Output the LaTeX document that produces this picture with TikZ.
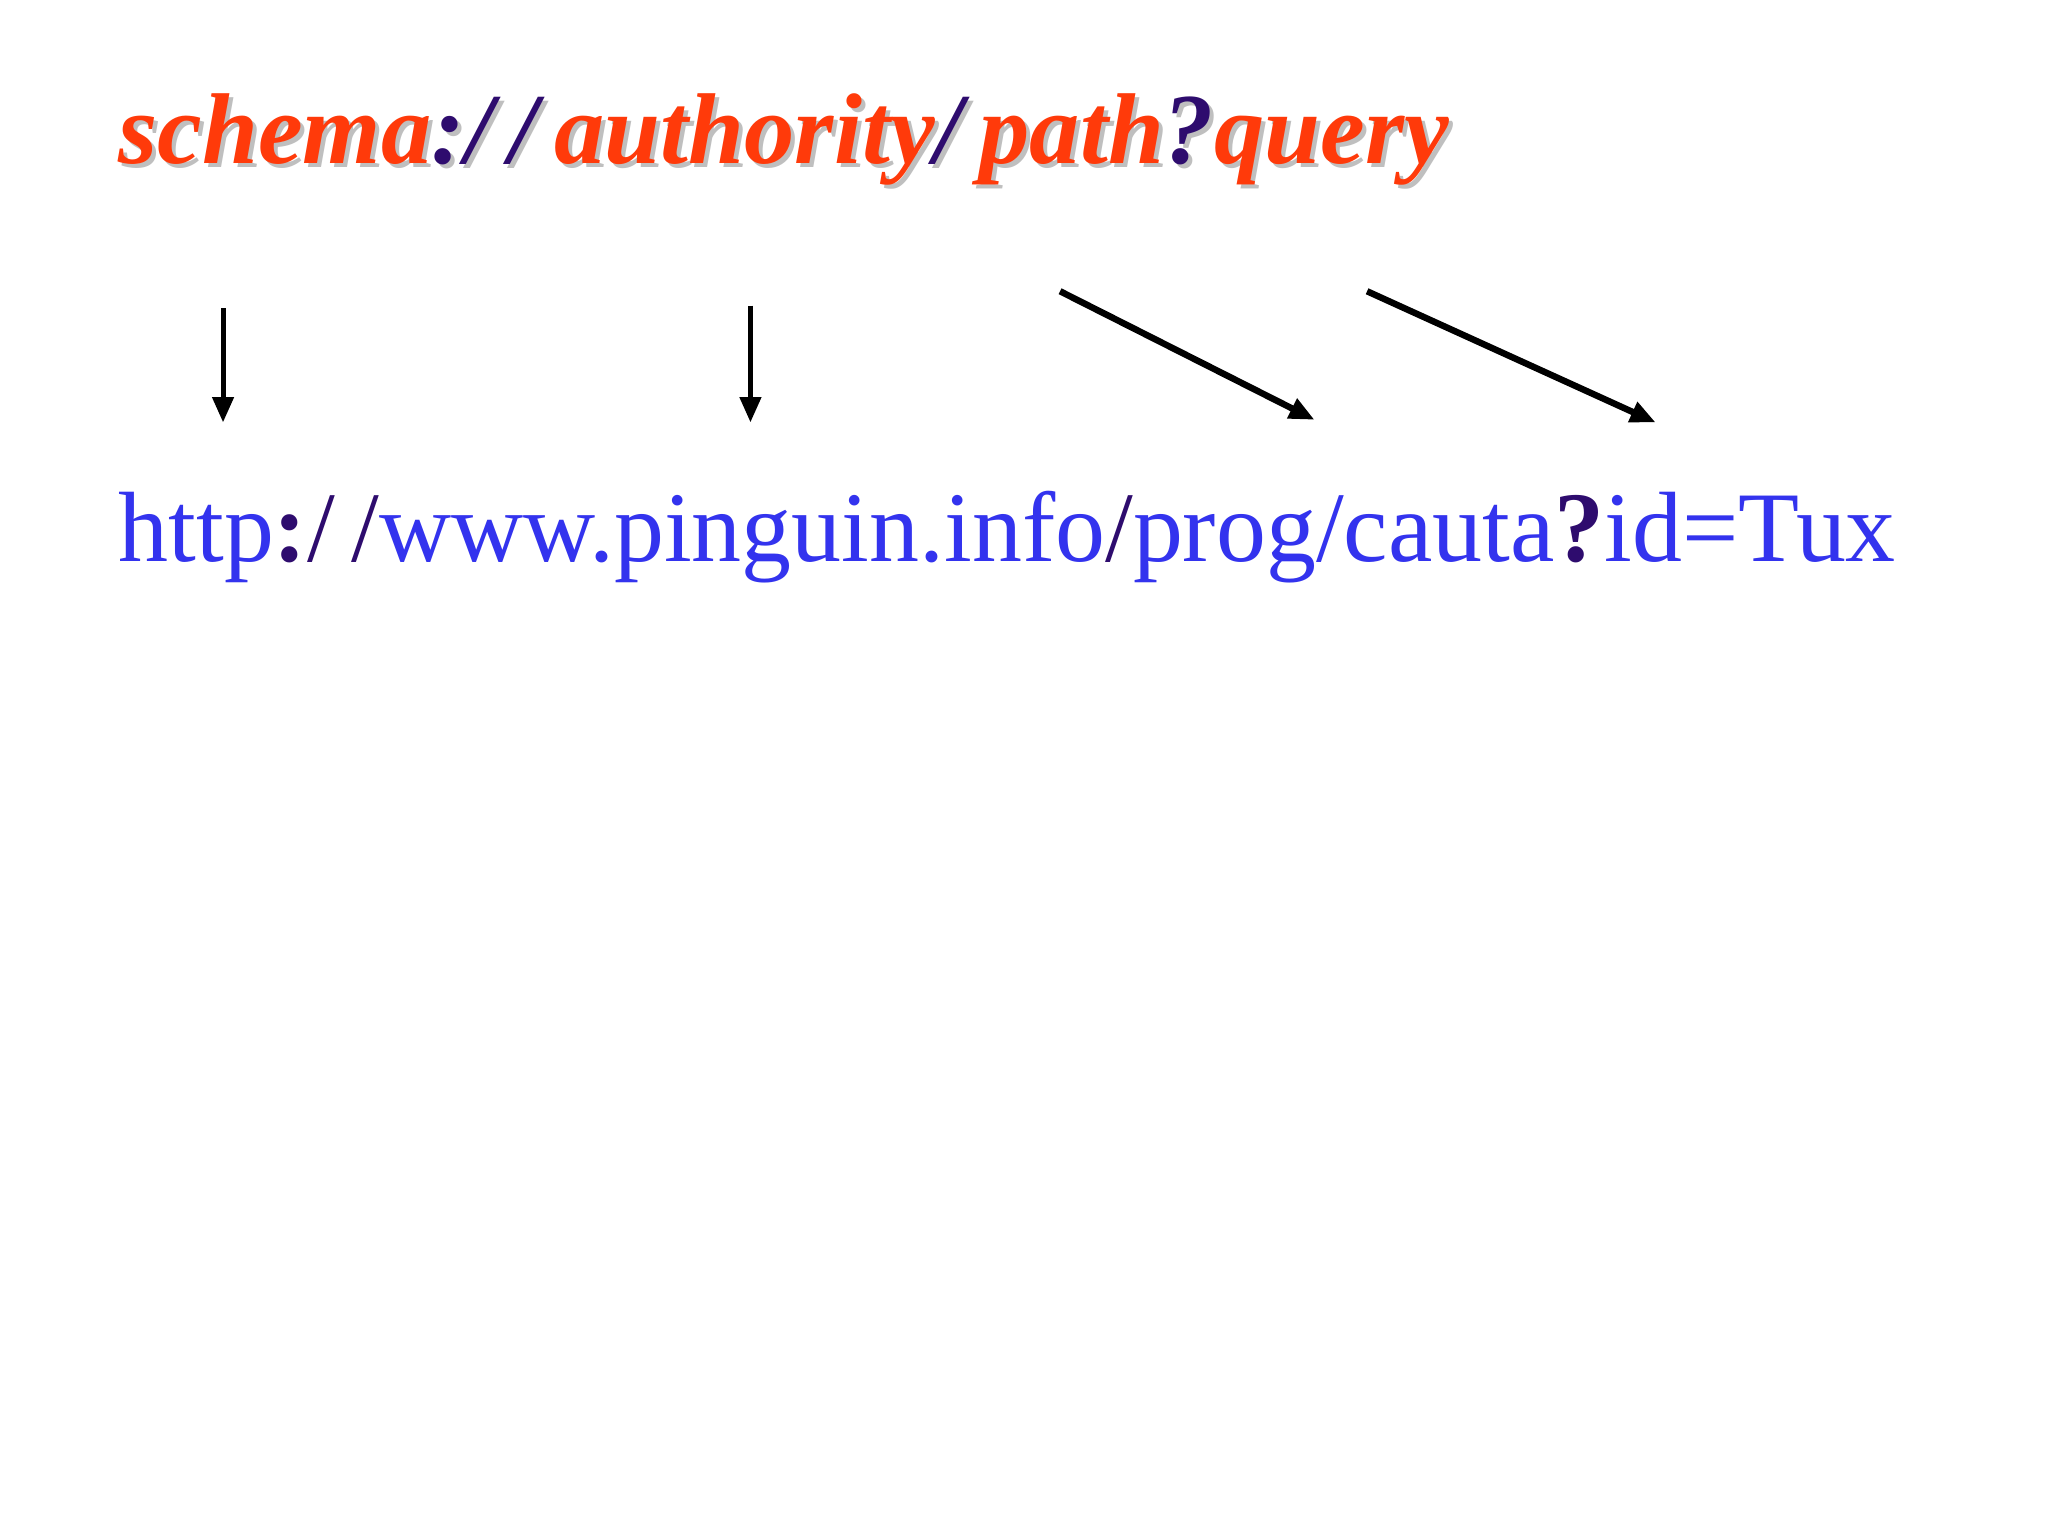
\documentclass[tikz,border=0pt]{standalone}
\usepackage{fontspec}
\setmainfont{Liberation Serif}
\usetikzlibrary{arrows.meta}
\definecolor{oran}{HTML}{FF3A0A}
\definecolor{purp}{HTML}{2E0C6E}
\definecolor{blu}{HTML}{3333EE}
\begin{document}
\begin{tikzpicture}[x=0.02cm,y=-0.02cm,
  arr/.style={draw=black,line width=2.2pt,-{Triangle[length=11pt,width=9pt]}},
  lbl/.style={inner sep=0pt,anchor=base west}]
\useasboundingbox[fill=white] (0,0) rectangle (1561,1170.75);
\node[lbl,text=gray!50] at (93,128) {\resizebox{577pt}{!}{\bfseries\itshape schema:/\,/\,authority/\,path?query}};
\node[lbl] (top) at (90,125) {\resizebox{577pt}{!}{\bfseries\itshape\color{oran}schema\color{purp}:/\,/\,\color{oran}authority\color{purp}/\,\color{oran}path\color{purp}?\color{oran}query}};
\node[lbl] (bot) at (90,428) {\resizebox{771pt}{!}{\color{blu}http\color{purp}\textbf{:}/\,/\color{blu}www.pinguin.info\color{purp}/\color{blu}prog/cauta\color{purp}\textbf{?}\color{blu}id=Tux}};
\coordinate (a1) at (170,235); \coordinate (b1) at (170,322);
\coordinate (a2) at (572,233); \coordinate (b2) at (572,322);
\coordinate (a3) at (808,222); \coordinate (b3) at (1002,320);
\coordinate (a4) at (1042,222); \coordinate (b4) at (1262,322);
\draw[arr] (a1) -- (b1);
\draw[arr] (a2) -- (b2);
\draw[arr,line width=2.8pt] (a3) -- (b3);
\draw[arr,line width=2.8pt] (a4) -- (b4);
\end{tikzpicture}
\end{document}
